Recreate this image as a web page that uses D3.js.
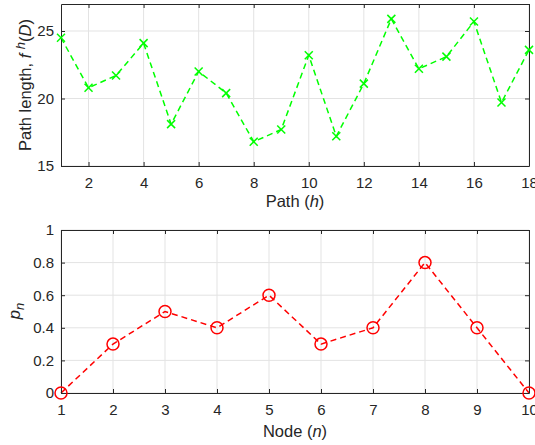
<!DOCTYPE html>
<html><head><meta charset="utf-8">
<script src="https://cdn.jsdelivr.net/npm/d3@7"></script>
<style>body{margin:0;background:#fff}svg{display:block}text{font-family:"Liberation Sans",Arial,sans-serif}</style>
</head><body><svg id="c" width="535" height="445"></svg>
<script>
const paths = d3.range(1, 19);
const pathLengths = [24.5,20.8,21.7,24.1,18.1,22.0,20.4,16.8,17.7,23.2,17.2,21.1,25.9,22.2,23.1,25.7,19.7,23.6];
const topXTicks = [2,4,6,8,10,12,14,16,18];
const topYTicks = [15,20,25];
const nodes = d3.range(1, 11);
const pn = [0,0.3,0.5,0.4,0.6,0.3,0.4,0.8,0.4,0];
const botXTicks = [1,2,3,4,5,6,7,8,9,10];
const botYTicks = [0,0.2,0.4,0.6,0.8,1];

const svg = d3.select("#c");
const axisCol = "#262626", gridCol = "#e3e3e3", fs = 15, lfs = 16.5;
const fmt = d3.format("~g");

function panel(o) {
  const x = d3.scaleLinear().domain(o.xd).range([o.l, o.r]);
  const y = d3.scaleLinear().domain(o.yd).range([o.b, o.t]);
  const g = svg.append("g");
  g.selectAll(".gx").data(o.xt).join("line").attr("x1", d=>x(d)).attr("x2", d=>x(d))
    .attr("y1", o.t).attr("y2", o.b).attr("stroke", gridCol).attr("stroke-width", 1);
  g.selectAll(".gy").data(o.yt).join("line").attr("y1", d=>y(d)).attr("y2", d=>y(d))
    .attr("x1", o.l).attr("x2", o.r).attr("stroke", gridCol).attr("stroke-width", 1);
  const pts = o.xs.map((d,i)=>[d, o.ys[i]]);
  g.append("path").datum(pts).attr("fill","none").attr("stroke", o.col).attr("stroke-width", 1.5)
    .attr("stroke-dasharray", "6,4")
    .attr("d", d3.line().x(d=>x(d[0])).y(d=>y(d[1])));
  const ax = [
    [d3.axisBottom(x).tickValues(o.xt).tickFormat(fmt).tickSizeInner(-4).tickSizeOuter(0).tickPadding(11), `translate(0,${o.b})`, true],
    [d3.axisTop(x).tickValues(o.xt).tickSizeInner(-4).tickSizeOuter(0), `translate(0,${o.t})`, false],
    [d3.axisLeft(y).tickValues(o.yt).tickFormat(fmt).tickSizeInner(-4).tickSizeOuter(0).tickPadding(7), `translate(${o.l},0)`, true],
    [d3.axisRight(y).tickValues(o.yt).tickSizeInner(-4).tickSizeOuter(0), `translate(${o.r},0)`, false]
  ];
  ax.forEach(([a, tr, lab]) => {
    const ag = g.append("g").attr("transform", tr).call(a);
    ag.select(".domain").attr("stroke", axisCol).attr("stroke-width", 1);
    ag.selectAll(".tick line").attr("stroke", axisCol);
    ag.selectAll("text").attr("fill", axisCol).style("font-size", fs + "px")
      .style("font-family", '"Liberation Sans",Arial,sans-serif');
    if (!lab) ag.selectAll("text").remove();
  });
  if (o.marker === "x") {
    const s = 4;
    const mg = g.selectAll(".mk").data(pts).join("g").attr("transform", d=>`translate(${x(d[0])},${y(d[1])})`);
    mg.append("line").attr("x1",-s).attr("y1",-s).attr("x2",s).attr("y2",s).attr("stroke",o.col).attr("stroke-width",1.5);
    mg.append("line").attr("x1",-s).attr("y1",s).attr("x2",s).attr("y2",-s).attr("stroke",o.col).attr("stroke-width",1.5);
  } else {
    g.selectAll(".mk").data(pts).join("circle").attr("cx", d=>x(d[0])).attr("cy", d=>y(d[1]))
      .attr("r", 6).attr("fill","none").attr("stroke", o.col).attr("stroke-width", 1.5);
  }
  return {x, y};
}

panel({l:61, r:529, t:4, b:166, xd:[1,18], yd:[15,27], xt:topXTicks, yt:topYTicks,
  xs:paths, ys:pathLengths, col:"#00ff00", marker:"x"});
panel({l:61, r:529, t:230, b:393, xd:[1,10], yd:[0,1], xt:botXTicks, yt:botYTicks,
  xs:nodes, ys:pn, col:"#ff0000", marker:"o"});

const xl1 = svg.append("text").attr("x", 295).attr("y", 207).attr("text-anchor","middle")
  .attr("fill", axisCol).style("font-size", lfs+"px");
xl1.append("tspan").text("Path (");
xl1.append("tspan").attr("font-style","italic").text("h");
xl1.append("tspan").text(")");

const xl2 = svg.append("text").attr("x", 295).attr("y", 437).attr("text-anchor","middle")
  .attr("fill", axisCol).style("font-size", lfs+"px");
xl2.append("tspan").text("Node (");
xl2.append("tspan").attr("font-style","italic").text("n");
xl2.append("tspan").text(")");

const yl1 = svg.append("text").attr("transform","translate(31,85) rotate(-90)").attr("text-anchor","middle")
  .attr("fill", axisCol).style("font-size", lfs+"px");
yl1.append("tspan").text("Path length, ");
yl1.append("tspan").attr("font-style","italic").text("f ");
yl1.append("tspan").attr("font-style","italic").attr("dy",-6).style("font-size","13px").text("h");
yl1.append("tspan").attr("dy",6).text("(");
yl1.append("tspan").attr("font-style","italic").text("D");
yl1.append("tspan").text(")");

const yl2 = svg.append("text").attr("transform","translate(20,311) rotate(-90)").attr("text-anchor","middle")
  .attr("fill", axisCol).style("font-size", lfs+"px");
yl2.append("tspan").attr("font-style","italic").text("p");
yl2.append("tspan").attr("font-style","italic").attr("dy",4).style("font-size","13px").text("n");
</script></body></html>
